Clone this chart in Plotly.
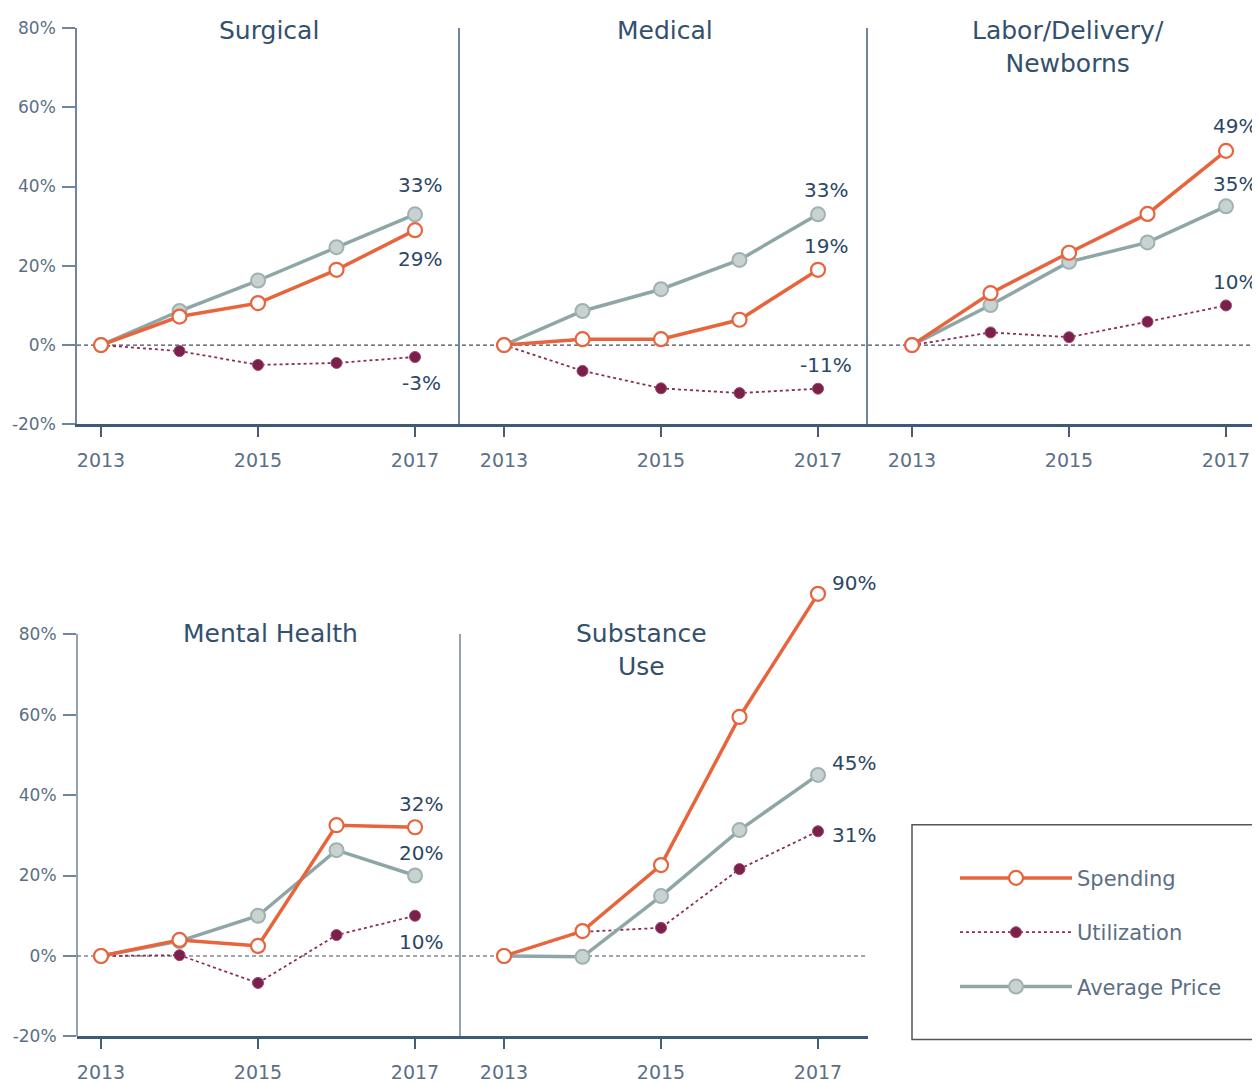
import plotly.graph_objects as go

# ---------------- data ----------------
years = [2013, 2014, 2015, 2016, 2017]
x_tick_years = [2013, 2015, 2017]
y_tick_vals = [-20, 0, 20, 40, 60, 80]
y_tick_text = ["-20%", "0%", "20%", "40%", "60%", "80%"]

panel_titles = ["Surgical", "Medical", "Labor/Delivery/<br>Newborns",
                "Mental Health", "Substance<br>Use"]
series_names = ["Spending", "Utilization", "Average Price"]

surgical_spending = [0, 7.2, 10.6, 19.0, 29]
surgical_utilization = [0, -1.5, -5.0, -4.5, -3]
surgical_avg_price = [0, 8.6, 16.3, 24.7, 33]

medical_spending = [0, 1.5, 1.5, 6.4, 19]
medical_utilization = [0, -6.5, -10.9, -12.1, -11]
medical_avg_price = [0, 8.6, 14.1, 21.5, 33]

labor_spending = [0, 13.1, 23.3, 33.1, 49]
labor_utilization = [0, 3.2, 2.0, 5.9, 10]
labor_avg_price = [0, 10.1, 21.0, 25.9, 35]

mental_spending = [0, 4.0, 2.5, 32.5, 32]
mental_utilization = [0, 0.2, -6.7, 5.2, 10]
mental_avg_price = [0, 3.7, 10.0, 26.3, 20]

substance_spending = [0, 6.2, 22.6, 59.4, 90]
substance_utilization = [0, 6.0, 7.0, 21.6, 31]
substance_avg_price = [0, -0.2, 14.9, 31.3, 45]

panel_data = [
    (surgical_spending, surgical_utilization, surgical_avg_price),
    (medical_spending, medical_utilization, medical_avg_price),
    (labor_spending, labor_utilization, labor_avg_price),
    (mental_spending, mental_utilization, mental_avg_price),
    (substance_spending, substance_utilization, substance_avg_price),
]

# ---------------- layout geometry ----------------
W, H = 1260, 1083
# map positions measured on the target image to paper fractions
# (the page viewer shows the figure offset by the page margin)
def px(x): return (x - 8) / W
def py(y): return 1 - ((y - 17) / 0.983) / H

panels = [
    dict(xd=[px(77), px(460)], yd=[py(424), py(27)], xr=[2012.694, 2017.573], yr=[-20, 80], row=0, first=True),
    dict(xd=[px(460), px(868)], yd=[py(424), py(27)], xr=[2012.439, 2017.637], yr=[-20, 80], row=0, first=False),
    dict(xd=[px(868), 1.0], yd=[py(424), py(27)], xr=[2012.439, 2017.535], yr=[-20, 80], row=0, first=False),
    dict(xd=[px(77), px(460)], yd=[py(1037), py(553.4)], xr=[2012.694, 2017.573], yr=[-20, 100], row=1, first=True),
    dict(xd=[px(460), px(868)], yd=[py(1037), py(553.4)], xr=[2012.439, 2017.637], yr=[-20, 100], row=1, first=False),
]
# centre of first title line (target pixels)
title_pos = [(269, 29), (665, 29), (1068, 29), (270, 633), (641, 633)]

# label placement per panel: (series index, xshift, yshift, xanchor)
label_place = [
    [(2, 5, 29, "center"), (0, 5, -29, "center"), (1, 6, -26, "center")],
    [(2, 8, 24, "center"), (0, 8, 24, "center"), (1, 8, 24, "center")],
    [(0, 9, 25, "center"), (2, 9, 22, "center"), (1, 9, 23, "center")],
    [(0, 6, 23, "center"), (2, 6, 23, "center"), (1, 6, -26, "center")],
    [(0, 12, 11, "left"), (2, 12, 12, "left"), (1, 12, -4, "left")],
]

ORANGE = "#e8643c"
PLUM = "#7b1f4b"
SAGE = "#8ea7a6"
AXIS_DARK = "#3d5a78"
AXIS_LIGHT = "#6f8599"
TEXT = "#5b6f85"
TITLE = "#33506c"
LABEL = "#2c4766"
FONT = "DejaVu Sans"

fig = go.Figure()

styles = [
    dict(line=dict(color=ORANGE, width=3.5),
         marker=dict(symbol="circle", size=14, color="white", line=dict(color=ORANGE, width=2.2))),
    dict(line=dict(color="#8c2d58", width=1.8, dash="dot"),
         marker=dict(symbol="circle", size=11, color=PLUM, line=dict(color="#9a4a70", width=1))),
    dict(line=dict(color=SAGE, width=3.5),
         marker=dict(symbol="circle", size=14, color="#c8d2d1", line=dict(color="#9fb2b1", width=2))),
]
draw_order = [1, 2, 0]
legend_rank = {0: 1, 1: 2, 2: 3}

annotations = []
shapes = []

for i, (p, data) in enumerate(zip(panels, panel_data)):
    n = i + 1
    xa = "x" if n == 1 else f"x{n}"
    ya = "y" if n == 1 else f"y{n}"
    for s in draw_order:
        fig.add_trace(go.Scatter(
            x=years, y=data[s], mode="lines+markers", name=series_names[s],
            xaxis=xa, yaxis=ya, cliponaxis=False,
            showlegend=(i == 0), legendgroup=series_names[s], legendrank=legend_rank[s],
            line=styles[s]["line"], marker=styles[s]["marker"], hoverinfo="skip",
        ))
    xkey = "xaxis" if n == 1 else f"xaxis{n}"
    ykey = "yaxis" if n == 1 else f"yaxis{n}"
    fig.layout[xkey] = dict(
        domain=p["xd"], range=p["xr"], anchor=ya, showgrid=False, zeroline=False,
        showline=True, linecolor=AXIS_DARK, linewidth=3,
        tickvals=x_tick_years, ticktext=[str(v) for v in x_tick_years],
        ticks="outside", ticklen=10, tickwidth=1.5, tickcolor="#4a5c70",
        tickfont=dict(family=FONT, size=19, color=TEXT), ticklabelstandoff=7,
    )
    fig.layout[ykey] = dict(
        domain=p["yd"], range=p["yr"], anchor=xa, showgrid=False, zeroline=False,
        showline=(p["row"] == 0), linecolor=AXIS_LIGHT, linewidth=1.5,
        tickvals=y_tick_vals, ticktext=y_tick_text,
        ticks="outside" if p["first"] else "", ticklen=13, tickwidth=1.5, tickcolor=AXIS_LIGHT,
        showticklabels=p["first"],
        tickfont=dict(family=FONT, size=17, color=TEXT), ticklabelstandoff=3,
    )
    if p["row"] == 1:
        shapes.append(dict(type="line", xref="paper", yref=ya, x0=p["xd"][0], x1=p["xd"][0],
                           y0=-20, y1=80, line=dict(color=AXIS_LIGHT, width=1.5), layer="below"))
    # end-value labels
    for s, xs, ys, xanc in label_place[i]:
        v = data[s][-1]
        annotations.append(dict(
            x=years[-1], y=v, xref=xa, yref=ya, text=f"{round(v)}%", showarrow=False,
            xanchor=xanc, yanchor="middle", xshift=xs, yshift=ys,
            font=dict(family=FONT, size=20, color=LABEL),
        ))
    tx, ty = title_pos[i]
    annotations.append(dict(
        x=px(tx), y=py(ty - 16), xref="paper", yref="paper", text=panel_titles[i], showarrow=False,
        xanchor="center", yanchor="top",
        font=dict(family=FONT, size=25, color=TITLE),
    ))

# dashed zero lines across each row
shapes.append(dict(type="line", xref="paper", yref="y", x0=px(77), x1=1.0, y0=0, y1=0,
                   line=dict(color="#4a4a5c", width=1.2, dash="4px,3px"), layer="below"))
shapes.append(dict(type="line", xref="paper", yref="y4", x0=px(77), x1=px(868), y0=0, y1=0,
                   line=dict(color="#4a4a5c", width=1.2, dash="4px,3px"), layer="below"))
# legend frame
shapes.append(dict(type="rect", xref="paper", yref="paper", x0=px(912), x1=px(1275),
                   y0=py(1040), y1=py(825), line=dict(color="#555555", width=1.5)))

fig.update_layout(
    width=W, height=H, margin=dict(l=0, r=0, t=0, b=0),
    paper_bgcolor="white", plot_bgcolor="rgba(0,0,0,0)",
    annotations=annotations, shapes=shapes,
    showlegend=True,
    legend=dict(x=px(955), y=py(858), xanchor="left", yanchor="top",
                borderwidth=0, bgcolor="rgba(0,0,0,0)",
                font=dict(family=FONT, size=21, color=TEXT),
                traceorder="grouped", tracegroupgap=24, itemwidth=112,
                itemclick=False, itemdoubleclick=False),
)

fig.write_html("out.html")
